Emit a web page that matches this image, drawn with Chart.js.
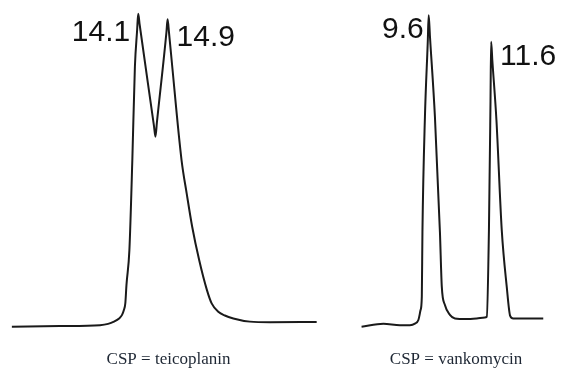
<!DOCTYPE html>

<html>
  <head>
    <title>Chromatograms - teicoplanin vs vankomycin</title>

    <script src="https://cdn.jsdelivr.net/npm/chart.js@4"></script>

    <style>
      body {
        margin: 0;
        background: white;
      }
      canvas {
        position: absolute;
        top: 0;
      }
      #chart-teicoplanin { left: 0; }
      #chart-vankomycin { left: 340px; }
    </style>
  </head>
  <body>
    <canvas id="chart-teicoplanin" width="340" height="370"></canvas>
    <canvas id="chart-vankomycin" width="223" height="370"></canvas>

    <script>
      // Retention time (min) and detector signal (% of full scale)

      const teicoplaninTime = [
        10.66, 11.97, 13.06, 13.28, 13.44, 13.58, 13.66, 13.71, 13.75, 13.78,
        13.86, 13.94, 14.01, 14.07, 14.1, 14.14, 14.53, 14.57, 14.61, 14.87,
        14.9, 14.94, 15.01, 15.28, 15.42, 15.57, 15.76, 15.97, 16.10, 16.28,
        16.46, 16.69, 17.14, 17.69, 18.96,
      ]
      const teicoplaninSignal = [
        1.2, 1.4, 1.7, 2.1, 2.8, 3.8, 4.9, 6.4, 8.6, 14.2,
        25.1, 53.2, 82.3, 93.6, 98.8, 95.4, 63.8, 60.5, 65.0, 93.2,
        97.1, 92.8, 84.4, 53.2, 42.8, 32.4, 22.0, 12.7, 8.5, 5.9,
        4.7, 3.8, 2.8, 2.6, 2.7,
      ]
      const teicoplaninPeaks = [14.1, 14.9]

      const vankomycinTime = [
        7.45, 8.15, 8.68, 9.0, 9.16, 9.27, 9.34, 9.38, 9.40, 9.48,
        9.57, 9.6, 9.64, 9.80, 9.96, 10.02, 10.12, 10.28, 10.44, 10.80,
        11.14, 11.40, 11.46, 11.53, 11.58, 11.6, 11.64, 11.77, 11.94, 12.10,
        12.21, 12.31, 13.27,
      ]
      const vankomycinSignal = [
        1.2, 2.1, 1.7, 1.7, 2.2, 3.3, 6.4, 10.6, 30.8, 66.7,
        89.9, 98.4, 91.9, 66.7, 30.8, 13.7, 8.0, 4.9, 3.8, 3.6,
        3.8, 4.1, 4.3, 31.4, 71.4, 90.1, 84.1, 65.7, 31.4, 13.7,
        4.6, 3.8, 3.8,
      ]
      const vankomycinPeaks = [9.6, 11.6]

      // Retention time written next to each peak apex

      function peakLabels(peaks, placement) {
        return {
          id: "peakLabels",
          afterDatasetsDraw(chart) {
            const { ctx, scales: { x, y } } = chart
            const points = chart.data.datasets[0].data
            ctx.save()
            ctx.font = '30px "Liberation Sans", Arial, sans-serif'
            ctx.fillStyle = "#111111"
            ctx.textBaseline = "alphabetic"
            peaks.forEach((time, i) => {
              const apex = points.find(p => p.x === time)
              const place = placement[i]
              ctx.textAlign = place.align
              ctx.fillText(
                time.toFixed(1),
                x.getPixelForValue(apex.x) + place.dx,
                y.getPixelForValue(apex.y) + place.dy
              )
            })
            ctx.restore()
          }
        }
      }

      function chromatogram(canvasId, times, signal, range, caption, padding, labels) {
        return new Chart(document.getElementById(canvasId), {
          type: "line",
          data: {
            datasets: [{
              data: times.map((t, i) => ({ x: t, y: signal[i] })),
              borderColor: "#1a1a1a",
              borderWidth: 2,
              borderJoinStyle: "round",
              pointRadius: 0,
              fill: false,
              cubicInterpolationMode: "monotone",
              clip: false,
            }]
          },
          options: {
            responsive: false,
            animation: false,
            events: [],
            layout: { padding },
            plugins: {
              legend: { display: false },
              tooltip: { enabled: false },
              title: {
                display: true,
                position: "bottom",
                text: caption,
                color: "#1d2633",
                font: {
                  family: '"Liberation Serif", "Times New Roman", serif',
                  size: 17,
                  weight: "normal",
                  lineHeight: 1.2,
                },
                padding: { top: 19, bottom: 0 },
              },
            },
            scales: {
              x: { type: "linear", display: false, min: range[0], max: range[1] },
              y: { type: "linear", display: false, min: 0, max: 100 },
            },
          },
          plugins: [labels],
        })
      }

      chromatogram(
        "chart-teicoplanin",
        teicoplaninTime, teicoplaninSignal,
        [10.5, 19.35],
        "CSP = teicoplanin",
        { left: 6, right: 9, top: 10, bottom: 0 },
        peakLabels(teicoplaninPeaks, [
          { align: "right", dx: -8, dy: 27 },
          { align: "left", dx: 9, dy: 27 },
        ])
      )

      chromatogram(
        "chart-vankomycin",
        vankomycinTime, vankomycinSignal,
        [7.4, 13.55],
        "CSP = vankomycin",
        { left: 20, right: 11, top: 10, bottom: 0 },
        peakLabels(vankomycinPeaks, [
          { align: "right", dx: -5, dy: 23 },
          { align: "left", dx: 9, dy: 23 },
        ])
      )
    </script>
  </body>
</html>
